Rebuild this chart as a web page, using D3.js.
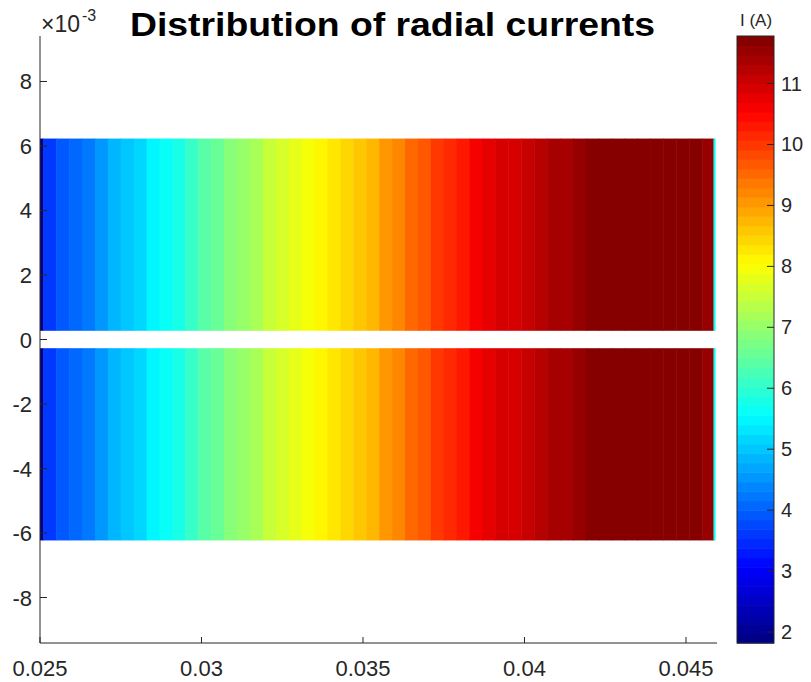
<!DOCTYPE html>
<html>
<head>
<meta charset="utf-8">
<script src="https://cdn.jsdelivr.net/npm/d3@7"></script>
<style>
  body { margin: 0; background: #fff; }
  text { font-family: "Liberation Sans", Arial, Helvetica, sans-serif; fill: #262626; }
</style>
</head>
<body>
<div id="chart"></div>
<script>
// radial positions of the element edges (m)
var rEdges = [0.025, 0.0251, 0.0255, 0.0259, 0.0263, 0.0267, 0.0271, 0.0275, 0.0279, 0.0283,
  0.0287, 0.0291, 0.0295, 0.0299, 0.0303, 0.0307, 0.0311, 0.0315, 0.0319, 0.0323, 0.0327,
  0.0331, 0.0335, 0.0339, 0.0343, 0.0347, 0.0351, 0.0355, 0.0359, 0.0363, 0.0367, 0.0371,
  0.0375, 0.0379, 0.0383, 0.0387, 0.0391, 0.0395, 0.0399, 0.0403, 0.0407, 0.0411, 0.0415,
  0.0419, 0.0423, 0.0427, 0.0431, 0.0435, 0.0439, 0.0443, 0.0447, 0.0451, 0.0455, 0.04585, 0.0459];
// current in each element (A)
var currents = [1.9, 3.65, 3.85, 4.05, 4.30, 4.55, 4.80, 5.00, 5.20, 5.40, 5.60, 5.85, 6.10,
  6.35, 6.55, 6.80, 7.05, 7.25, 7.45, 7.65, 7.85, 8.00, 8.15, 8.30, 8.45, 8.60, 8.80, 9.05,
  9.25, 9.50, 9.75, 9.95, 10.15, 10.35, 10.55, 10.70, 10.85, 11.00, 11.10, 11.25, 11.35,
  11.45, 11.60, 11.70, 11.78, 11.78, 11.78, 11.78, 11.78, 11.78, 11.78, 11.78, 11.6, 5.6];
// axial extent of the two conductors (m)
var zBands = [[0.00027, 0.00623], [-0.00623, -0.00027]];
var xTicks = [0.025, 0.03, 0.035, 0.04, 0.045];
var yTicks = [-8, -6, -4, -2, 0, 2, 4, 6, 8];
var cTicks = [2, 3, 4, 5, 6, 7, 8, 9, 10, 11];
var cRange = [1.82, 11.78];

var width = 811, height = 682;
var svg = d3.select('#chart').append('svg')
  .attr('width', width)
  .attr('height', height);

var x = d3.scaleLinear().domain([0.025, 0.04596]).range([40, 717]);
var y = d3.scaleLinear().domain([-0.00941, 0.00941]).range([643, 36]);

// MATLAB style jet with 64 levels
var jet = function(v){
  var t = (v - cRange[0]) / (cRange[1] - cRange[0]);
  var k = Math.max(0, Math.min(63, Math.floor(t * 64)));
  var s = (k + 0.5) / 64;
  var c = function(o){ return Math.round(255 * Math.max(0, Math.min(1, 1.5 - Math.abs(4 * s - o)))); };
  return 'rgb(' + c(3) + ',' + c(2) + ',' + c(1) + ')';
};

var strips = [];
zBands.forEach(function(b){
  currents.forEach(function(c, i){
    strips.push({r0: rEdges[i], r1: rEdges[i + 1], z0: b[0], z1: b[1], I: c});
  });
});

svg.append('g').selectAll('rect')
  .data(strips)
  .enter().append('rect')
  .attr('x', function(d){ return x(d.r0); })
  .attr('width', function(d){ return x(d.r1) - x(d.r0) + 0.5; })
  .attr('y', function(d){ return y(d.z1); })
  .attr('height', function(d){ return y(d.z0) - y(d.z1); })
  .attr('fill', function(d){ return jet(d.I); });

// axes
var xAxis = svg.append('g').attr('transform', 'translate(0,643)');
xAxis.append('line').attr('x1', 40).attr('x2', 717).attr('stroke', '#262626');
xAxis.selectAll('.tick').data(xTicks).enter().append('line')
  .attr('x1', function(d){ return x(d); }).attr('x2', function(d){ return x(d); })
  .attr('y1', 0).attr('y2', -6).attr('stroke', '#262626');
xAxis.selectAll('text').data(xTicks).enter().append('text')
  .attr('x', function(d){ return x(d); })
  .attr('y', 33)
  .attr('text-anchor', 'middle')
  .style('font-size', '22px')
  .text(function(d){ return d3.format('')(d); });

var yAxis = svg.append('g').attr('transform', 'translate(40,0)');
yAxis.append('line').attr('y1', 36).attr('y2', 643).attr('stroke', '#262626');
yAxis.selectAll('.tick').data(yTicks).enter().append('line')
  .attr('y1', function(d){ return y(d * 1e-3); }).attr('y2', function(d){ return y(d * 1e-3); })
  .attr('x1', 0).attr('x2', 7).attr('stroke', '#262626');
yAxis.selectAll('text').data(yTicks).enter().append('text')
  .attr('x', -8)
  .attr('y', function(d){ return y(d * 1e-3) + 8; })
  .attr('text-anchor', 'end')
  .style('font-size', '22px')
  .text(function(d){ return d; });

// exponent label
svg.append('text').attr('x', 41).attr('y', 32)
  .style('font-size', '23px').text('\u00d710');
svg.append('text').attr('x', 82).attr('y', 21)
  .style('font-size', '16px').text('-3');

svg.append('text')
  .attr('x', 130).attr('y', 36)
  .attr('textLength', 525)
  .attr('lengthAdjust', 'spacingAndGlyphs')
  .style('font-size', '34px')
  .style('font-weight', 'bold')
  .style('fill', '#000')
  .text('Distribution of radial currents');

// colorbar
var cy = d3.scaleLinear().domain(cRange).range([643, 36]);
var levels = d3.range(64);
var cbar = svg.append('g');
cbar.selectAll('rect').data(levels).enter().append('rect')
  .attr('x', 737).attr('width', 37)
  .attr('y', function(k){ return cy(cRange[0] + (k + 1) / 64 * (cRange[1] - cRange[0])); })
  .attr('height', (643 - 36) / 64 + 0.6)
  .attr('fill', function(k){ return jet(cRange[0] + (k + 0.5) / 64 * (cRange[1] - cRange[0])); });
cbar.append('rect').attr('x', 737).attr('y', 36).attr('width', 37).attr('height', 607)
  .attr('fill', 'none').attr('stroke', '#262626');
cbar.selectAll('.tick').data(cTicks).enter().append('line')
  .attr('x1', 767).attr('x2', 774)
  .attr('y1', function(d){ return cy(d); }).attr('y2', function(d){ return cy(d); })
  .attr('stroke', '#262626');
cbar.selectAll('text').data(cTicks).enter().append('text')
  .attr('x', 781)
  .attr('y', function(d){ return cy(d) + 7; })
  .style('font-size', '20px')
  .text(function(d){ return d; });
svg.append('text').attr('x', 756).attr('y', 26)
  .attr('text-anchor', 'middle')
  .style('font-size', '17px')
  .text('I (A)');
</script>
</body>
</html>
